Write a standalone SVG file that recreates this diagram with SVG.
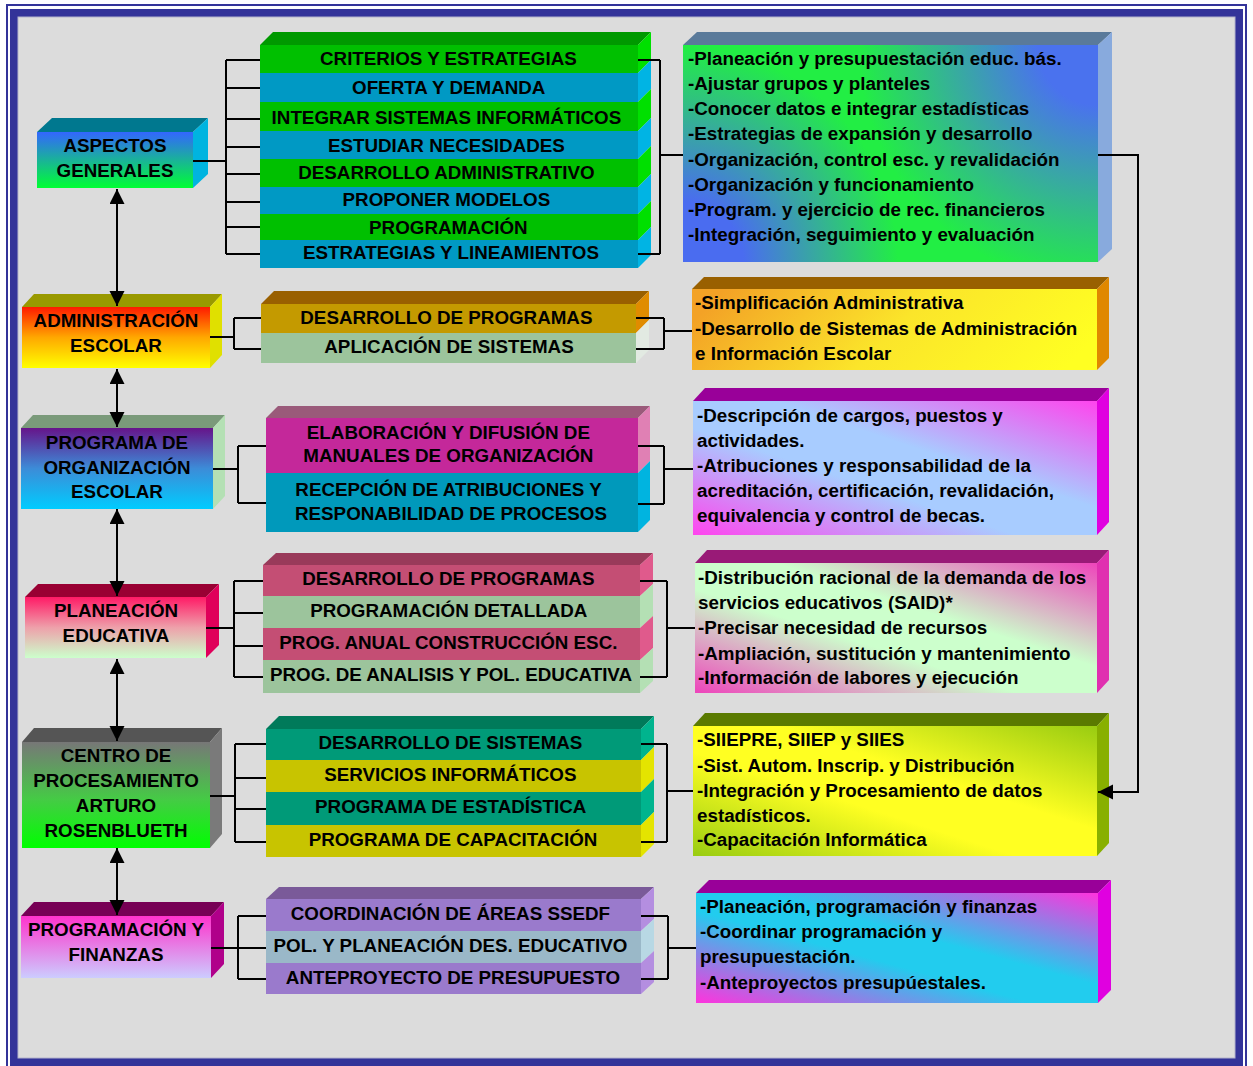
<svg xmlns="http://www.w3.org/2000/svg" width="1253" height="1066" viewBox="0 0 1253 1066">
  <style>
    .t { font-family: "Liberation Sans", Arial, Helvetica, sans-serif; font-weight: bold; font-size: 18.8px; fill: #000; }
    .c { text-anchor: middle; }
    .l { text-anchor: start; }
    .ln { fill: none; stroke: #000; stroke-width: 2; }
  </style>
  <defs>
    <marker id="ah" markerUnits="userSpaceOnUse" markerWidth="16" markerHeight="16" refX="15" refY="7.5" orient="auto-start-reverse">
      <path d="M0,0 L15,7.5 L0,15 z" fill="#000"/>
    </marker>
    <!-- left column fronts: vertical blends -->
    <linearGradient id="gAsp" x1="0" y1="0" x2="0" y2="1">
      <stop offset="0" stop-color="#3366ff"/><stop offset="1" stop-color="#00ff33"/>
    </linearGradient>
    <linearGradient id="gAdm" x1="0" y1="0" x2="0" y2="1">
      <stop offset="0" stop-color="#ff1a00"/><stop offset="0.5" stop-color="#ffa800"/><stop offset="1" stop-color="#ffff00"/>
    </linearGradient>
    <linearGradient id="gOrg" x1="0" y1="0" x2="0" y2="1">
      <stop offset="0" stop-color="#66148a"/><stop offset="0.5" stop-color="#3c8cd8"/><stop offset="1" stop-color="#00ccff"/>
    </linearGradient>
    <linearGradient id="gPla" x1="0" y1="0" x2="0" y2="1">
      <stop offset="0" stop-color="#ff1a66"/><stop offset="0.5" stop-color="#eea0aa"/><stop offset="1" stop-color="#ccffcc"/>
    </linearGradient>
    <linearGradient id="gCen" x1="0" y1="0" x2="0" y2="1">
      <stop offset="0" stop-color="#777777"/><stop offset="0.55" stop-color="#44cc44"/><stop offset="1" stop-color="#00ff00"/>
    </linearGradient>
    <linearGradient id="gFin" x1="0" y1="0" x2="0" y2="1">
      <stop offset="0" stop-color="#ff33cc"/><stop offset="1" stop-color="#ccccff"/>
    </linearGradient>
    <!-- first description box: green face with blue glow in two opposite corners -->
    <radialGradient id="d1a" gradientUnits="userSpaceOnUse" cx="683" cy="262" r="215">
      <stop offset="0" stop-color="#4a6cf0" stop-opacity="1"/><stop offset="0.28" stop-color="#4a6cf0" stop-opacity="1"/><stop offset="1" stop-color="#4a6cf0" stop-opacity="0"/>
    </radialGradient>
    <radialGradient id="d1b" gradientUnits="userSpaceOnUse" cx="1098" cy="45" r="240">
      <stop offset="0" stop-color="#4a72ee" stop-opacity="1"/><stop offset="0.25" stop-color="#4a72ee" stop-opacity="1"/><stop offset="1" stop-color="#4a72ee" stop-opacity="0"/>
    </radialGradient>
    <!-- other description fronts: diagonal blends, light band from top-left to bottom-right -->
    <linearGradient id="d2" x1="0" y1="0.4" x2="1" y2="0.6">
      <stop offset="0" stop-color="#f3a226"/><stop offset="0.5" stop-color="#fbe52a"/><stop offset="1" stop-color="#ffff22"/>
    </linearGradient>
    <linearGradient id="d3" gradientUnits="userSpaceOnUse" x1="855" y1="588.7" x2="935" y2="347.3">
      <stop offset="0" stop-color="#ff44ee"/><stop offset="0.4" stop-color="#a8ccff"/><stop offset="0.6" stop-color="#a8ccff"/><stop offset="1" stop-color="#ff44ee"/>
    </linearGradient>
    <linearGradient id="d4" gradientUnits="userSpaceOnUse" x1="857.9" y1="745.7" x2="934.1" y2="510.3">
      <stop offset="0" stop-color="#ee44bb"/><stop offset="0.4" stop-color="#ccffcc"/><stop offset="0.6" stop-color="#ccffcc"/><stop offset="1" stop-color="#ee44bb"/>
    </linearGradient>
    <linearGradient id="d5" gradientUnits="userSpaceOnUse" x1="857.1" y1="908.8" x2="932.9" y2="673.2">
      <stop offset="0" stop-color="#99cc11"/><stop offset="0.4" stop-color="#ffff22"/><stop offset="0.6" stop-color="#ffff22"/><stop offset="1" stop-color="#99cc11"/>
    </linearGradient>
    <linearGradient id="d6" gradientUnits="userSpaceOnUse" x1="869" y1="1050.3" x2="925" y2="845.7">
      <stop offset="0" stop-color="#ff33dd"/><stop offset="0.42" stop-color="#22ccee"/><stop offset="0.58" stop-color="#22ccee"/><stop offset="1" stop-color="#ff33dd"/>
    </linearGradient>
  </defs>

  <!-- frame -->
  <rect x="0" y="0" width="1253" height="1066" fill="#ffffff"/>
  <rect x="7" y="5" width="1239" height="1070" fill="none" stroke="#333399" stroke-width="2"/>
  <rect x="10" y="9" width="1233" height="1060" fill="#333399"/>
  <rect x="18" y="17" width="1217" height="1041" fill="#dcdcdc" stroke="#b4b4cc" stroke-width="1"/>

  <!-- left column -->
  <g id="aspectos-generales">
    <polygon points="37,132 52,118 208,118 193,132" fill="#00788f"/>
    <polygon points="193,132 208,118 208,174 193,188" fill="#00b4e0"/>
    <rect x="37" y="132" width="156" height="56" fill="url(#gAsp)"/>
    <text class="t c"><tspan x="115" y="151.5">ASPECTOS</tspan><tspan x="115" y="176.5">GENERALES</tspan></text>
  </g>
  <g id="administracion-escolar">
    <polygon points="22,307 34,294 222,294 210,307" fill="#999900"/>
    <polygon points="210,307 222,294 222,355 210,368" fill="#e0e000"/>
    <rect x="22" y="307" width="188" height="61" fill="url(#gAdm)"/>
    <text class="t c"><tspan x="116" y="326.5">ADMINISTRACIÓN</tspan><tspan x="116" y="351.5">ESCOLAR</tspan></text>
  </g>
  <g id="programa-organizacion">
    <polygon points="21,428 33,415 225,415 213,428" fill="#7a9a7a"/>
    <polygon points="213,428 225,415 225,496 213,509" fill="#b4e0b4"/>
    <rect x="21" y="428" width="192" height="81" fill="url(#gOrg)"/>
    <text class="t c"><tspan x="117" y="448.5">PROGRAMA DE</tspan><tspan x="117" y="473.5">ORGANIZACIÓN</tspan><tspan x="117" y="497.5">ESCOLAR</tspan></text>
  </g>
  <g id="planeacion-educativa">
    <polygon points="25,597 38,584 219,584 206,597" fill="#990033"/>
    <polygon points="206,597 219,584 219,645 206,658" fill="#e0005a"/>
    <rect x="25" y="597" width="181" height="61" fill="url(#gPla)"/>
    <text class="t c"><tspan x="116" y="616.5">PLANEACIÓN</tspan><tspan x="116" y="641.5">EDUCATIVA</tspan></text>
  </g>
  <g id="centro-procesamiento">
    <polygon points="22,742 34,728 222,728 210,742" fill="#555555"/>
    <polygon points="210,742 222,728 222,834 210,848" fill="#7a7a7a"/>
    <rect x="22" y="742" width="188" height="106" fill="url(#gCen)"/>
    <text class="t c"><tspan x="116" y="761.5">CENTRO DE</tspan><tspan x="116" y="786.5">PROCESAMIENTO</tspan><tspan x="116" y="811.5">ARTURO</tspan><tspan x="116" y="836.5">ROSENBLUETH</tspan></text>
  </g>
  <g id="programacion-finanzas">
    <polygon points="21,916 34,902 224,902 211,916" fill="#770055"/>
    <polygon points="211,916 224,902 224,964 211,978" fill="#b0008a"/>
    <rect x="21" y="916" width="190" height="62" fill="url(#gFin)"/>
    <text class="t c"><tspan x="116" y="935.5">PROGRAMACIÓN Y</tspan><tspan x="116" y="960.5">FINANZAS</tspan></text>
  </g>

  <!-- function stacks -->
  <g id="funciones-aspectos">
    <polygon points="260,45 273,32 651,32 638,45" fill="#009900"/>
    <rect x="260" y="45" width="378" height="28" fill="#00c000"/>
    <polygon points="638,45 651,32 651,60 638,73" fill="#00e000"/>
    <rect x="260" y="73" width="378" height="29" fill="#0099c4"/>
    <polygon points="638,73 651,60 651,89 638,102" fill="#00b4e4"/>
    <rect x="260" y="102" width="378" height="29" fill="#00c000"/>
    <polygon points="638,102 651,89 651,118 638,131" fill="#00e000"/>
    <rect x="260" y="131" width="378" height="28" fill="#0099c4"/>
    <polygon points="638,131 651,118 651,146 638,159" fill="#00b4e4"/>
    <rect x="260" y="159" width="378" height="28" fill="#00c000"/>
    <polygon points="638,159 651,146 651,174 638,187" fill="#00e000"/>
    <rect x="260" y="187" width="378" height="27" fill="#0099c4"/>
    <polygon points="638,187 651,174 651,201 638,214" fill="#00b4e4"/>
    <rect x="260" y="214" width="378" height="26" fill="#00c000"/>
    <polygon points="638,214 651,201 651,227 638,240" fill="#00e000"/>
    <rect x="260" y="240" width="378" height="28" fill="#0099c4"/>
    <polygon points="638,240 651,227 651,255 638,268" fill="#00b4e4"/>
    <text class="t c">
      <tspan x="451" y="64.5">CRITERIOS Y ESTRATEGIAS</tspan>
      <tspan x="451" y="93.5">OFERTA Y DEMANDA</tspan>
      <tspan x="449" y="123.5">INTEGRAR SISTEMAS INFORMÁTICOS</tspan>
      <tspan x="449" y="151.5">ESTUDIAR NECESIDADES</tspan>
      <tspan x="449" y="178.5">DESARROLLO ADMINISTRATIVO</tspan>
      <tspan x="449" y="205.5">PROPONER MODELOS</tspan>
      <tspan x="451" y="233.5">PROGRAMACIÓN</tspan>
      <tspan x="451" y="258.5">ESTRATEGIAS Y LINEAMIENTOS</tspan>
    </text>
  </g>
  <g id="funciones-administracion">
    <polygon points="261,304 274,291 649,291 636,304" fill="#996000"/>
    <rect x="261" y="304" width="375" height="29" fill="#c49a00"/>
    <polygon points="636,304 649,291 649,320 636,333" fill="#e08c00"/>
    <rect x="261" y="333" width="375" height="30" fill="#9cc49c"/>
    <polygon points="636,333 649,320 649,350 636,363" fill="#e2eae2"/>
    <text class="t c">
      <tspan x="449" y="323.5">DESARROLLO DE PROGRAMAS</tspan>
      <tspan x="449" y="352.5">APLICACIÓN DE SISTEMAS</tspan>
    </text>
  </g>
  <g id="funciones-organizacion">
    <polygon points="266,418 278,406 650,406 638,418" fill="#9a5a7a"/>
    <rect x="266" y="418" width="372" height="55" fill="#c4289a"/>
    <polygon points="638,418 650,406 650,461 638,473" fill="#e080b4"/>
    <rect x="266" y="473" width="372" height="59" fill="#0099bb"/>
    <polygon points="638,473 650,461 650,520 638,532" fill="#00b4e0"/>
    <text class="t c">
      <tspan x="451" y="438.5">ELABORACIÓN Y DIFUSIÓN DE</tspan>
      <tspan x="451" y="461.5">MANUALES DE ORGANIZACIÓN</tspan>
      <tspan x="451" y="495.5">RECEPCIÓN DE ATRIBUCIONES Y</tspan>
      <tspan x="451" y="519.5">RESPONABILIDAD DE PROCESOS</tspan>
    </text>
  </g>
  <g id="funciones-planeacion">
    <polygon points="263,565 276,553 653,553 640,565" fill="#993a5a"/>
    <rect x="263" y="565" width="377" height="31" fill="#c44e74"/>
    <polygon points="640,565 653,553 653,584 640,596" fill="#e05a8c"/>
    <rect x="263" y="596" width="377" height="32" fill="#9cc49c"/>
    <polygon points="640,596 653,584 653,616 640,628" fill="#b4e0b4"/>
    <rect x="263" y="628" width="377" height="32" fill="#c44e74"/>
    <polygon points="640,628 653,616 653,648 640,660" fill="#e05a8c"/>
    <rect x="263" y="660" width="377" height="33" fill="#9cc49c"/>
    <polygon points="640,660 653,648 653,681 640,693" fill="#b4e0b4"/>
    <text class="t c">
      <tspan x="451" y="584.5">DESARROLLO DE PROGRAMAS</tspan>
      <tspan x="451" y="616.5">PROGRAMACIÓN DETALLADA</tspan>
      <tspan x="451" y="648.5">PROG. ANUAL CONSTRUCCIÓN ESC.</tspan>
      <tspan x="451" y="680.5">PROG. DE ANALISIS Y POL. EDUCATIVA</tspan>
    </text>
  </g>
  <g id="funciones-centro">
    <polygon points="266,729 279,716 654,716 641,729" fill="#007a5a"/>
    <rect x="266" y="729" width="375" height="31" fill="#009a78"/>
    <polygon points="641,729 654,716 654,747 641,760" fill="#00b48e"/>
    <rect x="266" y="760" width="375" height="32" fill="#c8c400"/>
    <polygon points="641,760 654,747 654,779 641,792" fill="#e4e400"/>
    <rect x="266" y="792" width="375" height="33" fill="#009a78"/>
    <polygon points="641,792 654,779 654,812 641,825" fill="#00b48e"/>
    <rect x="266" y="825" width="375" height="32" fill="#c8c400"/>
    <polygon points="641,825 654,812 654,844 641,857" fill="#e4e400"/>
    <text class="t c">
      <tspan x="453" y="748.5">DESARROLLO DE SISTEMAS</tspan>
      <tspan x="453" y="780.5">SERVICIOS INFORMÁTICOS</tspan>
      <tspan x="453" y="812.5">PROGRAMA DE ESTADÍSTICA</tspan>
      <tspan x="453" y="845.5">PROGRAMA DE CAPACITACIÓN</tspan>
    </text>
  </g>
  <g id="funciones-finanzas">
    <polygon points="266,899 279,887 654,887 641,899" fill="#7a5a99"/>
    <rect x="266" y="899" width="375" height="32" fill="#9a7acc"/>
    <polygon points="641,899 654,887 654,919 641,931" fill="#b48ee0"/>
    <rect x="266" y="931" width="375" height="32" fill="#9ab8c8"/>
    <polygon points="641,931 654,919 654,951 641,963" fill="#b8d8e4"/>
    <rect x="266" y="963" width="375" height="31" fill="#9a7acc"/>
    <polygon points="641,963 654,951 654,982 641,994" fill="#b48ee0"/>
    <text class="t c">
      <tspan x="453" y="919.5">COORDINACIÓN DE ÁREAS SSEDF</tspan>
      <tspan x="453" y="951.5">POL. Y PLANEACIÓN DES. EDUCATIVO</tspan>
      <tspan x="453" y="983.5">ANTEPROYECTO DE PRESUPUESTO</tspan>
    </text>
  </g>

  <!-- description boxes -->
  <g id="desc-aspectos">
    <polygon points="683,45 697,32 1112,32 1098,45" fill="#5a7a9a"/>
    <polygon points="1098,45 1112,32 1112,249 1098,262" fill="#88aadd"/>
    <rect x="683" y="45" width="415" height="217" fill="#22ee44"/>
    <rect x="683" y="45" width="415" height="217" fill="url(#d1a)"/>
    <rect x="683" y="45" width="415" height="217" fill="url(#d1b)"/>
    <text class="t l">
      <tspan x="688" y="64.5">-Planeación y presupuestación educ. bás.</tspan>
      <tspan x="688" y="89.5">-Ajustar grupos y planteles</tspan>
      <tspan x="688" y="114.5">-Conocer datos e integrar estadísticas</tspan>
      <tspan x="688" y="139.5">-Estrategias de expansión y desarrollo</tspan>
      <tspan x="688" y="165.5">-Organización, control esc. y revalidación</tspan>
      <tspan x="688" y="190.5">-Organización y funcionamiento</tspan>
      <tspan x="688" y="215.5">-Program. y ejercicio de rec. financieros</tspan>
      <tspan x="688" y="240.5">-Integración, seguimiento y evaluación</tspan>
    </text>
  </g>
  <g id="desc-administracion">
    <polygon points="692,289 704,277 1109,277 1097,289" fill="#996000"/>
    <polygon points="1097,289 1109,277 1109,358 1097,370" fill="#e08800"/>
    <rect x="692" y="289" width="405" height="81" fill="url(#d2)"/>
    <text class="t l">
      <tspan x="695" y="308.5">-Simplificación Administrativa</tspan>
      <tspan x="695" y="334.5">-Desarrollo de Sistemas de Administración</tspan>
      <tspan x="695" y="359.5">e Información Escolar</tspan>
    </text>
  </g>
  <g id="desc-organizacion">
    <polygon points="693,401 705,388 1109,388 1097,401" fill="#990099"/>
    <polygon points="1097,401 1109,388 1109,522 1097,535" fill="#e000e0"/>
    <rect x="693" y="401" width="404" height="134" fill="url(#d3)"/>
    <text class="t l">
      <tspan x="697" y="421.5">-Descripción de cargos, puestos y</tspan>
      <tspan x="697" y="446.5">actividades.</tspan>
      <tspan x="697" y="471.5">-Atribuciones y responsabilidad de la</tspan>
      <tspan x="697" y="496.5">acreditación, certificación, revalidación,</tspan>
      <tspan x="697" y="521.5">equivalencia y control de becas.</tspan>
    </text>
  </g>
  <g id="desc-planeacion">
    <polygon points="695,563 707,550 1109,550 1097,563" fill="#991a77"/>
    <polygon points="1097,563 1109,550 1109,680 1097,693" fill="#e030b0"/>
    <rect x="695" y="563" width="402" height="130" fill="url(#d4)"/>
    <text class="t l">
      <tspan x="698" y="583.5">-Distribución racional de la demanda de los</tspan>
      <tspan x="698" y="608.5">servicios educativos (SAID)*</tspan>
      <tspan x="698" y="633.5">-Precisar necesidad de recursos</tspan>
      <tspan x="698" y="659.5">-Ampliación, sustitución y mantenimiento</tspan>
      <tspan x="698" y="683.5">-Información de labores y ejecución</tspan>
    </text>
  </g>
  <g id="desc-centro">
    <polygon points="693,726 705,713 1109,713 1097,726" fill="#5a7a00"/>
    <polygon points="1097,726 1109,713 1109,843 1097,856" fill="#88b000"/>
    <rect x="693" y="726" width="404" height="130" fill="url(#d5)"/>
    <text class="t l">
      <tspan x="697" y="745.5">-SIIEPRE, SIIEP y SIIES</tspan>
      <tspan x="697" y="771.5">-Sist. Autom. Inscrip. y Distribución</tspan>
      <tspan x="697" y="796.5">-Integración y Procesamiento de datos</tspan>
      <tspan x="697" y="821.5">estadísticos.</tspan>
      <tspan x="697" y="845.5">-Capacitación Informática</tspan>
    </text>
  </g>
  <g id="desc-finanzas">
    <polygon points="696,893 709,880 1111,880 1098,893" fill="#990099"/>
    <polygon points="1098,893 1111,880 1111,990 1098,1003" fill="#e000e0"/>
    <rect x="696" y="893" width="402" height="110" fill="url(#d6)"/>
    <text class="t l">
      <tspan x="700" y="912.5">-Planeación, programación y finanzas</tspan>
      <tspan x="700" y="937.5">-Coordinar programación y</tspan>
      <tspan x="700" y="962.5">presupuestación.</tspan>
      <tspan x="700" y="988.5">-Anteproyectos presupúestales.</tspan>
    </text>
  </g>

  <!-- connectors, drawn last so arrowheads sit over the box faces -->
  <g id="connectors">
    <!-- group 1 -->
    <path class="ln" d="M193,161 H226 M226,60 V254 M226,60 H260 M226,88 H260 M226,119 H260 M226,147 H260 M226,174 H260 M226,202 H260 M226,227 H260 M226,254 H260"/>
    <path class="ln" d="M638,60 H660 M638,254 H660 M660,60 V254 M660,155 H683"/>
    <!-- group 2 -->
    <path class="ln" d="M210,337 H234 M234,318 V349 M234,318 H261 M234,349 H261"/>
    <path class="ln" d="M636,318 H664 M636,349 H664 M664,318 V349 M664,331 H692"/>
    <!-- group 3 -->
    <path class="ln" d="M213,469 H238 M238,446 V503 M238,446 H266 M238,503 H266"/>
    <path class="ln" d="M638,446 H664 M638,504 H664 M664,446 V504 M664,469 H693"/>
    <!-- group 4 -->
    <path class="ln" d="M206,628 H234 M234,581 V677 M234,581 H263 M234,613 H263 M234,646 H263 M234,677 H263"/>
    <path class="ln" d="M640,581 H667 M640,677 H667 M667,581 V677 M667,628 H695"/>
    <!-- group 5 -->
    <path class="ln" d="M210,796 H235 M235,744 V842 M235,744 H266 M235,778 H266 M235,809 H266 M235,842 H266"/>
    <path class="ln" d="M641,744 H667 M641,842 H667 M667,744 V842 M667,791 H693"/>
    <!-- group 6 -->
    <path class="ln" d="M211,948 H266 M238,916 V979 M238,916 H266 M238,979 H266"/>
    <path class="ln" d="M641,916 H668 M641,979 H668 M668,916 V979 M668,948 H696"/>
    <!-- long link to informatics box -->
    <path class="ln" d="M1098,155 H1138 V792 H1098" marker-end="url(#ah)"/>
    <!-- vertical links between left column units -->
    <line class="ln" x1="117" y1="189" x2="117" y2="306" marker-start="url(#ah)" marker-end="url(#ah)"/>
    <line class="ln" x1="117" y1="369" x2="117" y2="427" marker-start="url(#ah)" marker-end="url(#ah)"/>
    <line class="ln" x1="117" y1="509" x2="117" y2="596" marker-start="url(#ah)" marker-end="url(#ah)"/>
    <line class="ln" x1="117" y1="659" x2="117" y2="741" marker-start="url(#ah)" marker-end="url(#ah)"/>
    <line class="ln" x1="117" y1="848" x2="117" y2="915" marker-start="url(#ah)" marker-end="url(#ah)"/>
  </g>
</svg>
